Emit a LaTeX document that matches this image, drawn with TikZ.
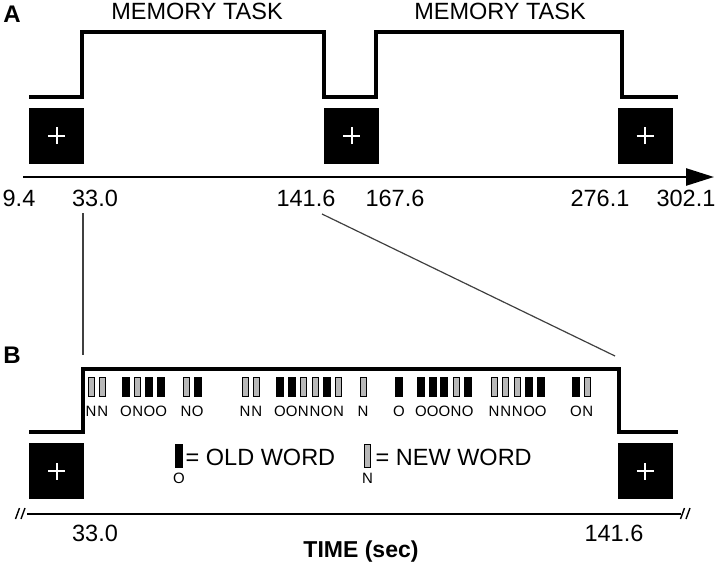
\documentclass[tikz,border=0pt]{standalone}
\usepackage{fontspec}
\setmainfont{Liberation Sans}
\usetikzlibrary{arrows.meta}
\begin{document}
\begin{tikzpicture}[x=1pt,y=-1pt,
  wave/.style={line width=3.2pt, line join=miter},
  fixbox/.style={fill=black, draw=none, minimum width=55pt, minimum height=56pt, inner sep=0pt,
    path picture={\draw[white,line width=2pt]
      ([xshift=-8.5pt]path picture bounding box.center) -- ([xshift=8.5pt]path picture bounding box.center)
      ([yshift=-8.5pt]path picture bounding box.center) -- ([yshift=8.5pt]path picture bounding box.center);}},
  lbl/.style={font=\fontsize{23.5}{25}\selectfont, inner sep=0pt},
  panel/.style={font=\fontsize{24}{26}\selectfont\bfseries, inner sep=0pt},
  barO/.style={draw=black, fill=black, line width=0.9pt, minimum width=7pt, minimum height=19.5pt, inner sep=0pt},
  barN/.style={draw=black, fill=black!28, line width=0.9pt, minimum width=6pt, minimum height=19.5pt, inner sep=0pt},
  wl/.style={font=\fontsize{15}{16}\selectfont, inner sep=0pt},
  conn/.style={draw=black!75, line width=1.2pt},
  axis/.style={line width=2.5pt}
]
\useasboundingbox (0,0) rectangle (720,570);

% ---------- Panel A ----------
\node[panel] (pa) at (12,14.5) {A};
\node[lbl] (mt1) at (197,11) {MEMORY TASK};
\node[lbl] (mt2) at (500,11) {MEMORY TASK};
\draw[wave] (29,97) -- (82,97) -- (82,32) -- (324,32) -- (324,97) -- (376,97) -- (376,32) -- (622,32) -- (622,97) -- (678,97);

\node[fixbox] (fa1) at (56.5,135.5) {};
\node[fixbox] (fa2) at (351.5,135.5) {};
\node[fixbox] (fa3) at (645,135.5) {};

\coordinate (axa0) at (23,177);
\coordinate (axa1) at (714,177);
\draw[axis, -{Triangle[length=28pt,width=17pt]}] (axa0) -- (axa1);

\node[lbl] (ta1) at (19,198.5) {9.4};
\node[lbl] (ta2) at (95,198.5) {33.0};
\node[lbl] (ta3) at (306,198.5) {141.6};
\node[lbl] (ta4) at (395,198.5) {167.6};
\node[lbl] (ta5) at (600,198.5) {276.1};
\node[lbl] (ta6) at (686,198.5) {302.1};

% ---------- zoom connectors ----------
\coordinate (z1a) at (83,213);
\coordinate (z1b) at (83,355);
\coordinate (z2a) at (322,214);
\coordinate (z2b) at (615,356);
\draw[conn] (z1a) -- (z1b);
\draw[conn] (z2a) -- (z2b);

% ---------- Panel B ----------
\node[panel] (pb) at (12,355) {B};
\draw[wave] (29,432) -- (83,432) -- (83,369) -- (619,369) -- (619,432) -- (678,432);

\node[fixbox] (fb1) at (56.5,471) {};
\node[fixbox] (fb2) at (645,471) {};

\foreach \x/\t [count=\i] in {
  87/N, 98.7/N,
  122/O, 133.7/N, 145.4/O, 157.1/O,
  182/N, 193.7/O,
  241/N, 252.7/N,
  276/O, 287.7/O, 299.4/N, 311.1/N, 322.8/O, 334.5/N,
  359/N,
  395/O,
  417/O, 428.7/O, 440.4/O, 452.1/N, 463.8/O,
  490/N, 501.7/N, 513.4/N, 525.1/O, 536.8/O,
  572/O, 583.7/N}{
  \node[bar\t] (w\i) at (\x+4,387) {};
  \node[wl] (l\i) at (\x+4,411.5) {\t};
}

% legend
\node[barO, minimum height=23pt] (lgo) at (179,456) {};
\node[wl] (lgol) at (179,478.5) {O};
\node[lbl, anchor=west] (lgot) at (185.5,457) {= OLD WORD};
\node[barN, minimum height=23pt] (lgn) at (367.5,456) {};
\node[wl] (lgnl) at (367.5,478.5) {N};
\node[lbl, anchor=west] (lgnt) at (375.5,457) {= NEW WORD};

% axis B with breaks
\coordinate (axb0) at (27,514);
\coordinate (axb1) at (681,514);
\draw[line width=2pt] (axb0) -- (axb1);
\draw[line width=1.4pt] (15.5,519) -- (19.5,508) (21,519) -- (25,508);
\draw[line width=1.4pt] (680.5,519) -- (684.5,508) (686,519) -- (690,508);

\node[lbl] (tb1) at (95,533.5) {33.0};
\node[lbl] (tb2) at (614,533.5) {141.6};
\node[font=\fontsize{23}{25}\selectfont\bfseries, inner sep=0pt] (tt) at (361,552) {TIME (sec)};
\end{tikzpicture}
\end{document}
